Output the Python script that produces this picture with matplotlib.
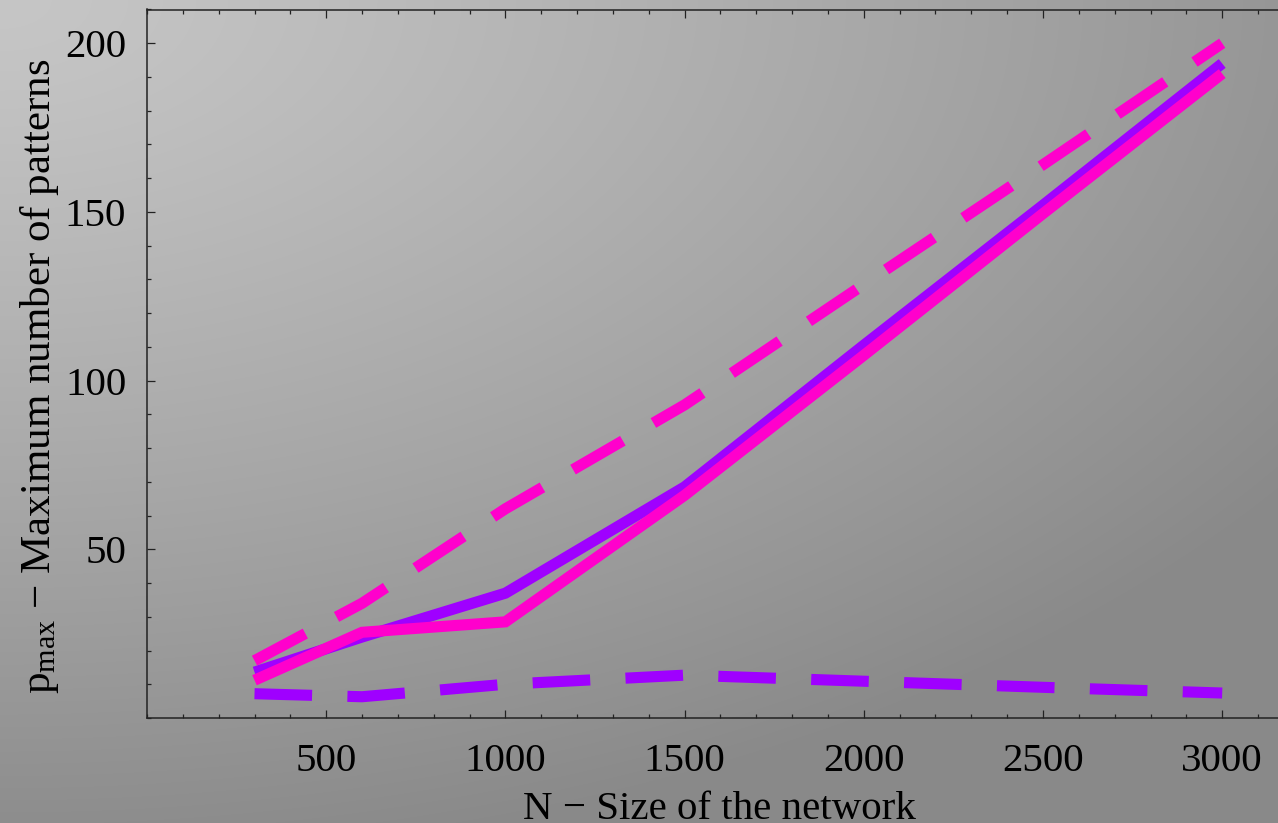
import numpy as np
import matplotlib
matplotlib.use("Agg")
import matplotlib.pyplot as plt
from matplotlib.ticker import FixedLocator, MultipleLocator

plt.rcParams['font.family'] = ['Liberation Serif', 'DejaVu Serif']
plt.rcParams['mathtext.fontset'] = 'custom'
plt.rcParams['mathtext.rm'] = 'Liberation Serif'
plt.rcParams['mathtext.it'] = 'Liberation Serif:italic'

# ---- data ----
N = [300, 600, 1000, 1500, 2000, 2500, 3000]
purple_solid = [13.6, 24.0, 37.0, 68.5, 110.5, 152.0, 194.0]
pink_solid = [11.2, 25.4, 28.5, 66.0, 107.5, 149.5, 191.0]
pink_dashed = [17.0, 34.0, 62.0, 92.8, 128.5, 164.0, 200.0]
purple_dashed = [7.2, 6.3, 10.0, 12.7, 10.9, 9.1, 7.4]

x_ticks = [500, 1000, 1500, 2000, 2500, 3000]
y_ticks = [50, 100, 150, 200]

PURPLE = '#9F00FF'
PINK = '#FF00CC'

W, H = 1278, 823
fig = plt.figure(figsize=(W / 100, H / 100), dpi=100)

# background gradient (light at top-left, darker towards bottom/right)
bg = fig.add_axes([0, 0, 1, 1], zorder=-10)
yy, xx = np.mgrid[0:H, 0:W]
r = np.sqrt((xx / 1550.0) ** 2 + (yy / 860.0) ** 2)
r = np.clip(r, 0, 1) ** 1.2
c = (198 - 60 * r) / 255.0
img = np.dstack([c, c, c])
bg.imshow(img, aspect='auto', extent=[0, 1, 0, 1], origin='upper')
bg.axis('off')

# main axes: left spine at x=147 px, bottom at y=718 px, extends past right edge
x0_px, xscale = 147, 0.3584
xmax = 3170
ax = fig.add_axes([x0_px / W, (H - 718) / H, xmax * xscale / W, 708.5 / H])
ax.set_facecolor('none')
ax.set_xlim(0, xmax)
ax.set_ylim(0, 210)

lw = 8.0
dash = (57 / 11, 35 / 11)
ax.plot(N, purple_solid, color=PURPLE, lw=lw, solid_joinstyle='miter', solid_capstyle='butt')
ax.plot(N, pink_solid, color=PINK, lw=lw, solid_joinstyle='miter', solid_capstyle='butt')
ax.plot(N, pink_dashed, color=PINK, lw=lw, dashes=dash, dash_capstyle='butt', dash_joinstyle='miter')
ax.plot(N, purple_dashed, color=PURPLE, lw=lw, dashes=dash, dash_capstyle='butt', dash_joinstyle='miter')

ax.xaxis.set_major_locator(FixedLocator(x_ticks))
ax.xaxis.set_minor_locator(MultipleLocator(100))
ax.yaxis.set_major_locator(FixedLocator(y_ticks))
ax.yaxis.set_minor_locator(MultipleLocator(10))
ax.set_xticklabels([str(v) for v in x_ticks])
ax.set_yticklabels([str(v) for v in y_ticks])

for s in ['left', 'bottom', 'top', 'right']:
    ax.spines[s].set_color('#222222')
    ax.spines[s].set_linewidth(1.1)

ax.tick_params(which='both', direction='in', top=True, right=False, color='#222222', width=0.9)
ax.tick_params(which='major', length=5.5)
ax.tick_params(which='minor', length=3.2)
ax.tick_params(axis='x', which='major', labelsize=29.5, pad=18)
ax.tick_params(axis='y', which='major', labelsize=29.5, pad=15)

fig.text(719 / W, 4 / H, 'N − Size of the network', fontsize=29.5, ha='center', va='baseline')
fig.text(40 / W, 1 - 376 / H, r'$\mathregular{p_{max}}$ − Maximum number of patterns',
         fontsize=31, rotation=90, ha='center', va='center')

fig.savefig('out.png', dpi=100)
